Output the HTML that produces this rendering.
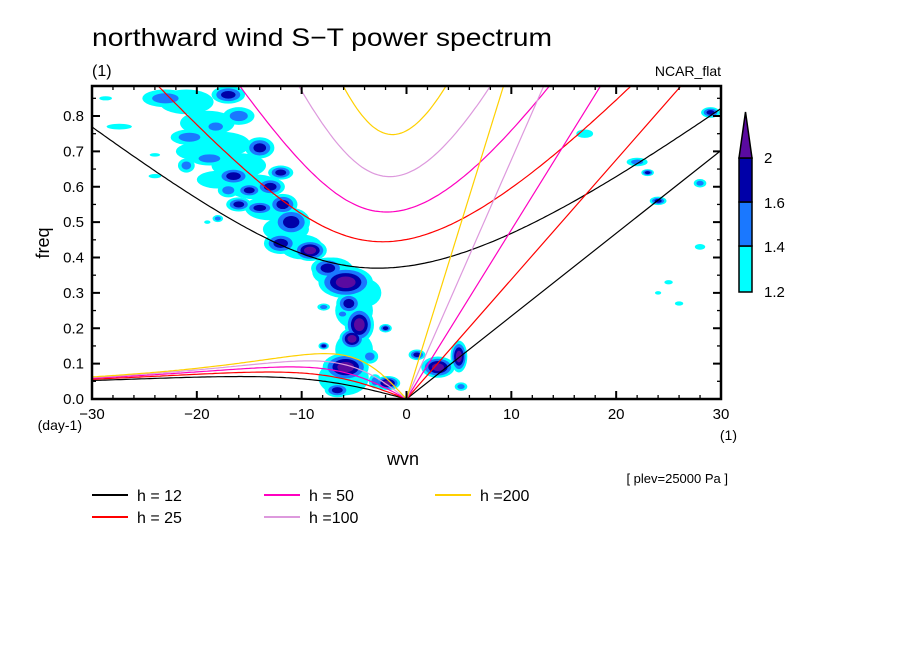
<!DOCTYPE html>
<html><head><meta charset="utf-8">
<style>
html,body{margin:0;padding:0;background:#fff;}
svg{display:block;font-family:"Liberation Sans","DejaVu Sans",sans-serif;}
</style></head>
<body>
<svg id="chart" width="904" height="654" viewBox="0 0 904 654" xmlns="http://www.w3.org/2000/svg">
<rect width="904" height="654" fill="#fff"/>
<text x="92" y="46" font-size="25" textLength="460" lengthAdjust="spacingAndGlyphs">northward wind S−T power spectrum</text>
<text x="92" y="76" font-size="16">(1)</text>
<text x="721" y="76" font-size="14" text-anchor="end">NCAR_flat</text>
<text transform="translate(49,243) rotate(-90)" font-size="18" text-anchor="middle">freq</text>
<text x="82" y="430" font-size="14" text-anchor="end">(day-1)</text>
<text x="737" y="440" font-size="14" text-anchor="end">(1)</text>
<text x="403" y="465" font-size="18" text-anchor="middle">wvn</text>
<text x="728" y="483" font-size="13" text-anchor="end">[ plev=25000 Pa ]</text>
<defs><clipPath id="pc"><rect x="92" y="86" width="629" height="313"/></clipPath></defs>
<g id="fills" clip-path="url(#pc)"></g>
<g id="curves" clip-path="url(#pc)"></g>
<g id="axes"></g>
<g id="cbar"></g>
<g id="legend"></g>
</svg>
<script>
const depths = [12, 25, 50, 100, 200];
const depthColors = ["#000000", "#ff0000", "#ff00c0", "#dd99dd", "#ffd000"];
const depthLabels = ["h = 12", "h = 25", "h = 50", "h =100", "h =200"];
const xTicks = [-30, -20, -10, 0, 10, 20, 30];
const yTicks = [0.0, 0.1, 0.2, 0.3, 0.4, 0.5, 0.6, 0.7, 0.8];
const cbarLevels = [1.2, 1.4, 1.6, 2];
const levelColors = ["#00ffff", "#1a78ff", "#0000a8", "#5a0aa0"];
// blobs: wavenumber, freq, half-width (wvn), half-height (freq), max level (1-4)
const blobK = [-23,-17,-16,-18.2,-20.7,-14,-18.8,-21,-16.5,-12,-13,-15,-17,-16,-14,-11.8,-11,-12,-9.2,-18,-28.7,-27.4,-24,-20,
  -5.8,-7.5,-4.5,-5.2,-5.5,-5.8,-6.6,-1.8,1,3,5,5.2,-2,-7.9,-6.1,-7.9,-3.5,-3,
  29,24,28,22,23,17,25,26,28,24,-24,-19,
  -21,-19,-17.5,-16,-14.5,-13,-11.5,-10,-7,-5,-5,-18,-20,-6,-4];
const blobF = [0.85,0.86,0.80,0.77,0.74,0.71,0.68,0.66,0.63,0.64,0.60,0.59,0.59,0.55,0.54,0.55,0.50,0.44,0.42,0.51,0.85,0.77,0.63,0.79,
  0.33,0.37,0.21,0.17,0.27,0.09,0.025,0.045,0.125,0.09,0.12,0.035,0.20,0.26,0.24,0.15,0.12,0.05,
  0.81,0.56,0.61,0.67,0.64,0.75,0.33,0.27,0.43,0.30,0.69,0.50,
  0.84,0.78,0.72,0.66,0.60,0.54,0.48,0.43,0.36,0.25,0.14,0.62,0.70,0.06,0.30];
const blobRX = [2.2,1.6,1.5,1.2,1.8,1.4,1.8,0.8,1.6,1.2,1.4,1.2,1.0,1.2,1.4,1.4,1.8,1.6,1.6,0.5,0.6,1.2,0.6,0.8,
  2.6,1.6,1.4,1.2,1.2,2.2,1.2,1.2,0.8,1.6,0.8,0.6,0.6,0.6,0.6,0.5,0.8,0.6,
  0.9,0.8,0.6,1.0,0.6,0.8,0.4,0.4,0.5,0.3,0.5,0.3,
  2.6,2.6,2.6,2.6,2.6,2.4,2.2,2.0,2.0,1.8,1.8,2.0,2.0,2.4,1.6];
const blobRY = [0.025,0.025,0.025,0.02,0.022,0.03,0.02,0.02,0.025,0.02,0.025,0.02,0.02,0.02,0.02,0.03,0.04,0.03,0.03,0.01,0.006,0.008,0.006,0.01,
  0.045,0.03,0.05,0.03,0.03,0.04,0.02,0.02,0.015,0.03,0.045,0.012,0.012,0.01,0.012,0.01,0.02,0.02,
  0.015,0.012,0.012,0.012,0.01,0.012,0.006,0.006,0.008,0.005,0.005,0.005,
  0.035,0.035,0.035,0.035,0.035,0.035,0.035,0.035,0.04,0.05,0.05,0.025,0.025,0.05,0.04];
const blobL = [2,3,2,2,2,3,2,2,3,3,3,3,2,3,3,3,3,3,4,2,1,1,1,1,
  4,3,4,4,3,4,3,4,3,4,4,2,3,2,2,3,2,2,
  3,3,2,2,3,1,1,1,1,1,1,1,
  1,1,1,1,1,1,1,1,1,1,1,1,1,1,1];

const X0=92,X1=721,Y0=399,Y1=86;
const xs = k => X0 + (k + 30) / 60 * (X1 - X0);
const ys = f => 399 - f * 353.75;
const NS="http://www.w3.org/2000/svg";
function mk(tag, attrs, parent){const e=document.createElementNS(NS,tag);for(const a in attrs)e.setAttribute(a,attrs[a]);parent.appendChild(e);return e;}

// contour fills
const fills=document.getElementById('fills');
for(let lev=1;lev<=4;lev++){
  for(let i=0;i<blobK.length;i++){
    if(blobL[i]<lev)continue;
    const s=1-(lev-1)/blobL[i]*0.85;
    const e=mk('ellipse',{cx:xs(blobK[i]),cy:ys(blobF[i]),rx:blobRX[i]*10.48*s,ry:blobRY[i]*353.75*s,fill:levelColors[lev-1]},fills);
    
    
  }
}

// dispersion curves (Matsuno n=1 and Kelvin)
const g=9.81,a=6.371e6,beta=2*7.292e-5/a;
const curves=document.getElementById('curves');
function cubic(w,k){return w*w*w-(k*k+3)*w-k;}
function root(lo,hi,k){let flo=cubic(lo,k);for(let i=0;i<80;i++){const m=(lo+hi)/2,fm=cubic(m,k);if((fm>0)===(flo>0)){lo=m;flo=fm;}else hi=m;}return (lo+hi)/2;}
depths.forEach((h,j)=>{
  const c=Math.sqrt(g*h),L=Math.sqrt(c/beta),T=1/Math.sqrt(beta*c);
  const toF=w=>w/T*86400/(2*Math.PI);
  let ig=[],ro=[];
  for(let kk=-30;kk<=30.001;kk+=0.25){
    const kn=kk/a*L;
    const wi=root(Math.sqrt(kn*kn+2),Math.sqrt(kn*kn+3)+10,kn);
    ig.push(xs(kk).toFixed(1)+','+ys(toF(wi)).toFixed(1));
    if(kk<0){const wr=root(1e-9,1,kn);ro.push(xs(kk).toFixed(1)+','+ys(toF(wr)).toFixed(1));}
  }
  ro.push(xs(0)+','+ys(0));
  const p1=mk('polyline',{points:ig.join(' '),fill:'none',stroke:depthColors[j],'stroke-width':1.2},curves);
  
  
  const p2=mk('polyline',{points:ro.join(' '),fill:'none',stroke:depthColors[j],'stroke-width':1.2},curves);
  
  
  const fk=k=>c*k/a/(2*Math.PI)*86400;
  const p3=mk('line',{x1:xs(0),y1:ys(0),x2:xs(30),y2:ys(fk(30)),stroke:depthColors[j],'stroke-width':1.2},curves);
  
  
});

// axes
const ax=document.getElementById('axes');
const fr=mk('rect',{x:X0,y:Y1,width:X1-X0,height:Y0-Y1,fill:'none',stroke:'#000','stroke-width':2.5},ax);


for(let k=-30;k<=30;k+=2){const major=k%10===0,len=major?8:4;
  mk('line',{x1:xs(k),y1:Y0,x2:xs(k),y2:Y0-len,stroke:'#000','stroke-width':major?2:1.3},ax);
  mk('line',{x1:xs(k),y1:Y1,x2:xs(k),y2:Y1+len,stroke:'#000','stroke-width':major?2:1.3},ax);}
for(let f=0;f<=0.88;f+=0.05){const major=Math.round(f*100)%10===0,len=major?8:4;
  mk('line',{x1:X0,y1:ys(f),x2:X0+len,y2:ys(f),stroke:'#000','stroke-width':major?2:1.3},ax);
  mk('line',{x1:X1,y1:ys(f),x2:X1-len,y2:ys(f),stroke:'#000','stroke-width':major?2:1.3},ax);}
xTicks.forEach(k=>{const t=mk('text',{x:xs(k),y:Y0+20,'font-size':15,'text-anchor':'middle'},ax);t.textContent=(k<0?'−':'')+Math.abs(k);
  
  });
yTicks.forEach(f=>{const t=mk('text',{x:X0-8,y:ys(f)+5,'font-size':15,'text-anchor':'end'},ax);t.textContent=f.toFixed(1);
  
  });

// colorbar
const cb=document.getElementById('cbar');
const cx0=739,cw=13,segY=[292,246,202,158];
for(let i=0;i<3;i++){const r=mk('rect',{x:cx0,y:segY[i+1],width:cw,height:segY[i]-segY[i+1],fill:levelColors[i],stroke:'#000','stroke-width':1.5},cb);
  
  }
const tri=mk('polygon',{points:`${cx0},158 ${cx0+cw},158 ${cx0+cw/2},112`,fill:levelColors[3],stroke:'#000','stroke-width':1.5},cb);


cbarLevels.forEach((v,i)=>{const t=mk('text',{x:764,y:[297,252,208,163][i],'font-size':15},cb);t.textContent=String(v);
  
  });

// legend
const lg=document.getElementById('legend');
const lx=[92,92,264,264,435],ly=[495,517,495,517,495];
depths.forEach((h,j)=>{
  const l=mk('line',{x1:lx[j],y1:ly[j],x2:lx[j]+36,y2:ly[j],stroke:depthColors[j],'stroke-width':2},lg);
  
  
  const t=mk('text',{x:lx[j]+45,y:ly[j]+6,'font-size':16},lg);t.textContent=depthLabels[j];
  
  
});
</script>
</body></html>
